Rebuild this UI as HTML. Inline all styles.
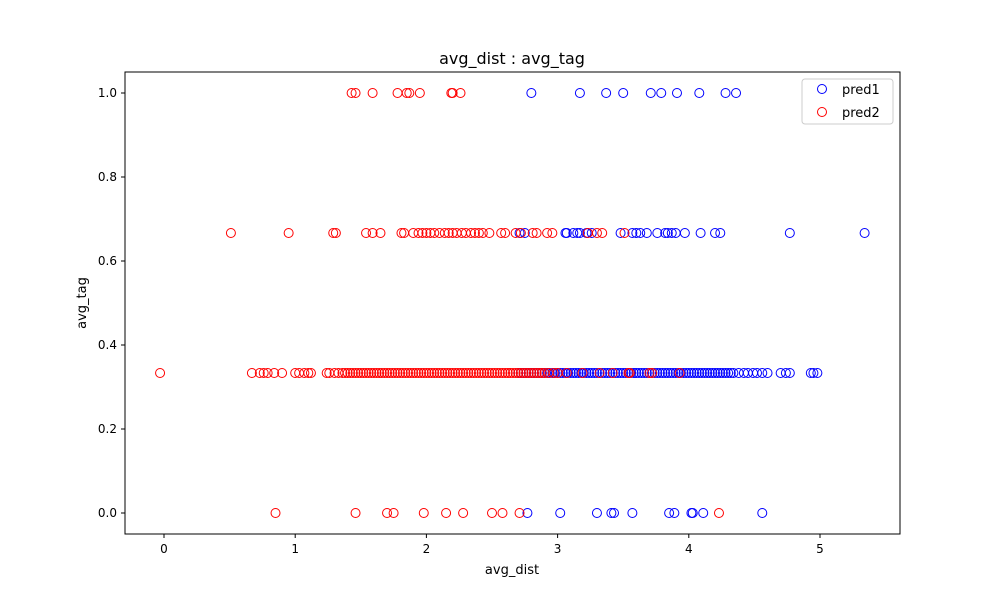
<!DOCTYPE html>
<html><head><meta charset="utf-8"><style>
body{margin:0;background:#fff;font-family:"Liberation Sans","DejaVu Sans",sans-serif}
</style></head><body>
<svg id="chart" width="1000" height="600" xmlns="http://www.w3.org/2000/svg" font-family="DejaVu Sans, Liberation Sans, sans-serif">
<rect width="1000" height="600" fill="#fff"/>
<text x="512" y="64" font-size="16" text-anchor="middle">avg_dist : avg_tag</text>
<g id="marks"></g>
<rect x="125" y="72" width="775" height="462" fill="none" stroke="#000" stroke-width="1"/>
<g id="axes"></g>
<text x="512" y="574" font-size="13" text-anchor="middle">avg_dist</text>
<text transform="translate(86,303) rotate(-90)" font-size="13" text-anchor="middle">avg_tag</text>
<g>
<rect x="802" y="79" width="91" height="45" rx="3" fill="#fff" stroke="#ccc"/>
<circle cx="822" cy="89" r="4.5" fill="none" stroke="blue"/>
<text x="842" y="94" font-size="13">pred1</text>
<circle cx="822" cy="112" r="4.5" fill="none" stroke="red"/>
<text x="842" y="117" font-size="13">pred2</text>
</g>
</svg>
<script>
const xTicks=[0,1,2,3,4,5];
const yTicks=[0.0,0.2,0.4,0.6,0.8,1.0];
const pred1Row1=[2.80,3.17,3.37,3.50,3.71,3.79,3.91,4.08,4.28,4.36];
const pred2Row1=[1.43,1.46,1.59,1.78,1.85,1.87,1.95,2.19,2.20,2.26];
const pred1Row0=[2.77,3.02,3.30,3.41,3.43,3.57,3.85,3.89,4.02,4.03,4.11,4.56];
const pred2Row0=[0.85,1.46,1.70,1.75,1.98,2.15,2.28,2.50,2.58,2.71,4.23];
const pred1Row67=[2.71,2.75,3.06,3.07,3.12,3.15,3.17,3.22,3.23,3.26,3.48,3.57,3.60,3.63,3.68,3.76,3.82,3.84,3.87,3.90,3.97,4.09,4.20,4.24,4.77,5.34];
const pred2Row67=[0.51,0.95,1.29,1.31,1.54,1.59,1.65,1.81,1.83,1.90,1.94,1.97,2.00,2.03,2.06,2.10,2.14,2.17,2.20,2.23,2.27,2.30,2.34,2.37,2.40,2.43,2.48,2.57,2.60,2.68,2.72,2.81,2.84,2.92,2.96,3.23,3.30,3.34,3.51];
const pred1Row33=[2.70,2.72,2.74,2.76,2.78,2.80,2.82,2.84,2.86,2.88,2.90,2.92,2.94,2.96,2.98,3.00,3.02,3.04,3.06,3.08,3.10,3.12,3.14,3.16,3.18,3.20,3.22,3.24,3.26,3.28,3.30,3.32,3.34,3.36,3.38,3.40,3.42,3.44,3.46,3.48,3.50,3.52,3.54,3.56,3.58,3.60,3.62,3.64,3.66,3.68,3.70,3.72,3.74,3.76,3.78,3.80,3.82,3.84,3.86,3.88,3.90,3.92,3.94,3.96,3.98,4.00,4.02,4.04,4.06,4.08,4.10,4.12,4.14,4.16,4.18,4.20,4.22,4.24,4.26,4.28,4.30,4.32,4.34,4.38,4.42,4.45,4.49,4.52,4.56,4.60,4.70,4.74,4.77,4.93,4.95,4.98];
const pred2Row33=[-0.03,0.67,0.73,0.76,0.79,0.84,0.90,1.00,1.03,1.07,1.10,1.12,1.24,1.26,1.30,1.33,1.36,1.38,1.40,1.42,1.44,1.46,1.48,1.50,1.52,1.54,1.56,1.58,1.60,1.62,1.64,1.66,1.68,1.70,1.72,1.74,1.76,1.78,1.80,1.82,1.84,1.86,1.88,1.90,1.92,1.94,1.96,1.98,2.00,2.02,2.04,2.06,2.08,2.10,2.12,2.14,2.16,2.18,2.20,2.22,2.24,2.26,2.28,2.30,2.32,2.34,2.36,2.38,2.40,2.42,2.44,2.46,2.48,2.50,2.52,2.54,2.56,2.58,2.60,2.62,2.64,2.66,2.68,2.70,2.72,2.74,2.76,2.78,2.80,2.82,2.84,2.86,2.88,2.90,2.93,2.97,3.00,3.07,3.19,3.32,3.42,3.54,3.55,3.70,3.72,3.93];
const NS="http://www.w3.org/2000/svg";
const xs=v=>164+v*131.2, ys=v=>513-v*420;
const marks=document.getElementById('marks'), axes=document.getElementById('axes');
function plot(arr,y,color,name){arr.forEach(v=>{const c=document.createElementNS(NS,'circle');
c.setAttribute('cx',xs(v));c.setAttribute('cy',ys(y));c.setAttribute('r',4.5);
c.setAttribute('fill','none');c.setAttribute('stroke',color);c.setAttribute('stroke-width',1);


marks.appendChild(c);});}
plot(pred1Row1,1,'blue','pred1-point');plot(pred1Row67,2/3,'blue','pred1-point');plot(pred1Row33,1/3,'blue','pred1-point');plot(pred1Row0,0,'blue','pred1-point');
plot(pred2Row1,1,'red','pred2-point');plot(pred2Row67,2/3,'red','pred2-point');plot(pred2Row33,1/3,'red','pred2-point');plot(pred2Row0,0,'red','pred2-point');
xTicks.forEach(t=>{const l=document.createElementNS(NS,'line');l.setAttribute('x1',xs(t));l.setAttribute('x2',xs(t));l.setAttribute('y1',534);l.setAttribute('y2',538);l.setAttribute('stroke','#000');


axes.appendChild(l);
const tx=document.createElementNS(NS,'text');tx.setAttribute('x',xs(t));tx.setAttribute('y',553);tx.setAttribute('font-size','12');tx.setAttribute('text-anchor','middle');tx.textContent=t;


axes.appendChild(tx);});
yTicks.forEach(t=>{const l=document.createElementNS(NS,'line');l.setAttribute('x1',121);l.setAttribute('x2',125);l.setAttribute('y1',ys(t));l.setAttribute('y2',ys(t));l.setAttribute('stroke','#000');


axes.appendChild(l);
const tx=document.createElementNS(NS,'text');tx.setAttribute('x',117);tx.setAttribute('y',ys(t)+4);tx.setAttribute('font-size','12');tx.setAttribute('text-anchor','end');tx.textContent=t.toFixed(1);


axes.appendChild(tx);});
</script>
</body></html>
